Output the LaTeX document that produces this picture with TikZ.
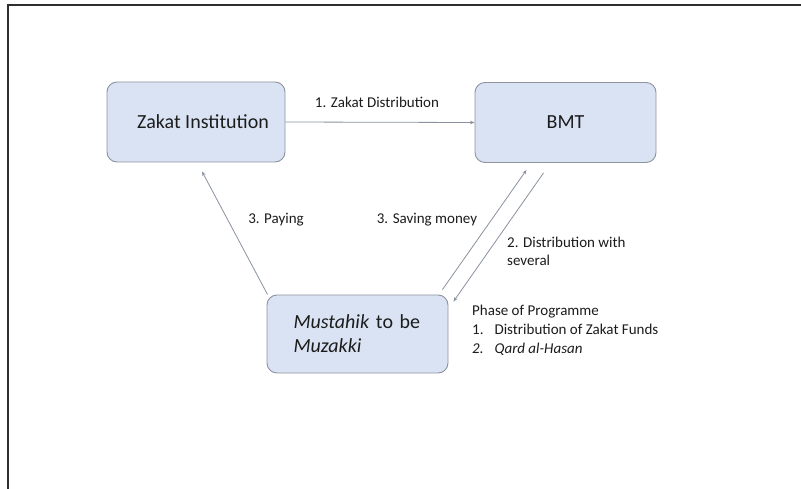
\documentclass[tikz,border=0pt]{standalone}
\usepackage{fontspec}
\setmainfont{Carlito}
\usetikzlibrary{arrows.meta,calc}
\definecolor{boxfill}{HTML}{DAE3F3}
\definecolor{boxline}{HTML}{8E939E}
\definecolor{arrowc}{HTML}{8A929E}
\definecolor{txt}{HTML}{1C1C1C}
\definecolor{frame}{HTML}{2E2E2E}
\tikzset{
  procbox/.style={draw=boxline, line width=0.9pt, fill=boxfill, rounded corners=10pt,
    minimum width=178pt, minimum height=80pt, inner sep=0pt, text=txt, font=\fontsize{20}{24}\selectfont},
  flow/.style={draw=arrowc, line width=0.8pt, -{Stealth[length=4.5pt,width=3.5pt]}},
  lbl/.style={text=txt, font=\fontsize{15}{18}\selectfont, inner sep=0pt},
}
\begin{document}
\begin{tikzpicture}[x=1pt,y=-1pt]
\useasboundingbox (0,0) rectangle (801,489);
\fill[white] (0,0) rectangle (801,489);
% frame
\draw[frame, line width=2.2pt] (8,489) -- (8,5) -- (801,5);
% boxes
\node[procbox] (zi) at (196,122) {\hspace*{14pt}Zakat Institution};
\node[procbox, minimum width=181pt] (bmt) at (565.5,122.5) {BMT};
\node[procbox, minimum width=181pt, minimum height=78pt, align=left, text width=128pt] (mz) at (357.5,334)
  {\fontsize{20}{26}\selectfont\textit{Mustahik} to be\\\textit{Muzakki}};
% connectors
\draw[flow] (zi.east) -- (bmt.west);
\draw[flow] ($(mz.north west)+(1,0)$) -- ($(zi.south)+(6,9)$);
\draw[flow] ($(mz.north east)+(-6,-5)$) -- ($(bmt.south)+(-39,7)$);
\draw[flow] ($(bmt.south)+(-22,10)$) -- ($(mz.north east)+(5,7)$);
% labels
\node[lbl] (l1) at (377,102) {1. Zakat Distribution};
\node[lbl] (l2) at (276,220) {3. Paying};
\node[lbl] (l3) at (427,220) {3. Saving money};
\node[lbl, anchor=west, align=left] (l4) at (507,251) {2. Distribution with\\several};
\node[lbl, anchor=north west, align=left] (l5) at (472,305)
  {Phase of Programme\\[1pt]
   1.\hspace{11pt}Distribution of Zakat Funds\\[1pt]
   \textit{2.\hspace{11pt}Qard al-Hasan}};
\end{tikzpicture}
\end{document}
